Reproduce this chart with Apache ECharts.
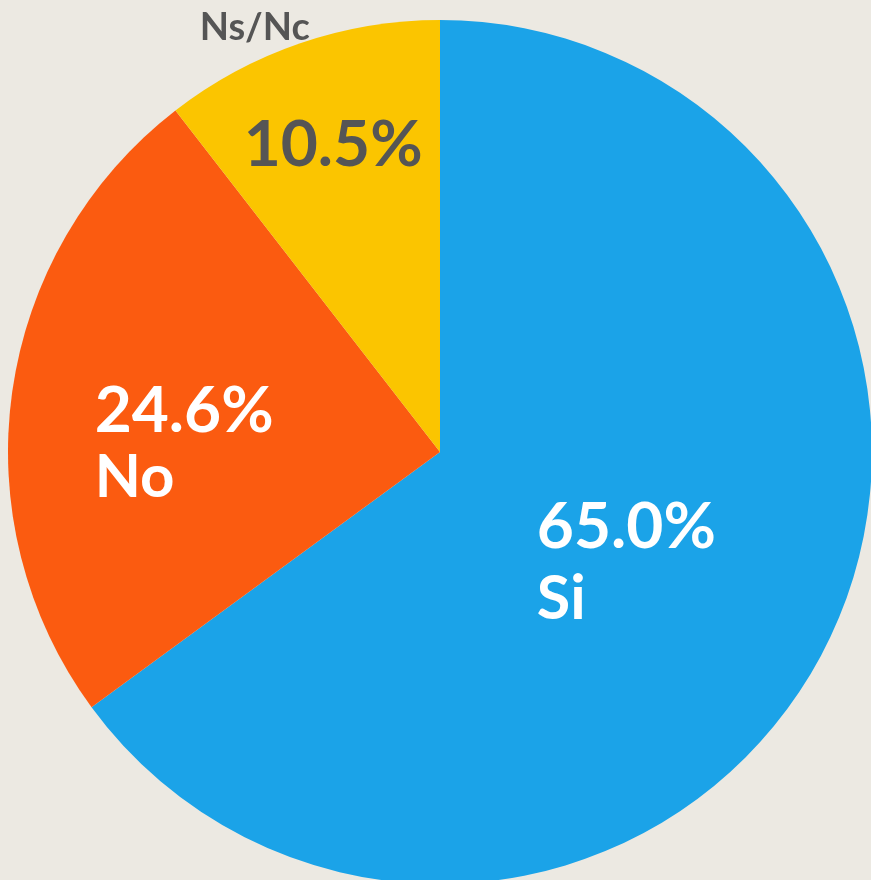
<!DOCTYPE html>
<html>
<head>
<meta charset="utf-8">
<script src="https://cdn.jsdelivr.net/npm/echarts@6/dist/echarts.min.js"></script>
<style>
html,body{margin:0;padding:0;background:#ECE9E2;}
#chart{width:871px;height:880px;}
</style>
</head>
<body>
<div id="chart"></div>
<script>
const categories = ['Si', 'No', 'Ns/Nc'];
const values = [65.0, 24.6, 10.5];
const colors = ['#1BA3E8', '#FB5B10', '#FBC500'];

const FONT = 'Lato';
const labelCfg = [
  { offset: [-9, 12], formatter: (p) => '{v|' + p.value.toFixed(1) + '%}\n{n|' + p.name + '}',
    rich: { v: { fontSize: 64, fontWeight: 'bold', color: '#FFFFFF', fontFamily: FONT, lineHeight: 72, align: 'left' },
            n: { fontSize: 61, fontWeight: 'bold', color: '#FFFFFF', fontFamily: FONT, lineHeight: 72, align: 'left' } } },
  { offset: [-39, 23], formatter: (p) => '{v|' + p.value.toFixed(1) + '%}\n{n|' + p.name + '}',
    rich: { v: { fontSize: 64, fontWeight: 'bold', color: '#FFFFFF', fontFamily: FONT, lineHeight: 66, align: 'left' },
            n: { fontSize: 60, fontWeight: 'bold', color: '#FFFFFF', fontFamily: FONT, lineHeight: 66, align: 'left' } } },
  { offset: [-58, -150], formatter: (p) => '{n|' + p.name + '}\n{v|' + p.value.toFixed(1) + '%}',
    rich: { n: { fontSize: 38, fontWeight: 'bold', color: '#555555', fontFamily: FONT, lineHeight: 102, align: 'left' },
            v: { fontSize: 64, fontWeight: 'bold', color: '#555555', fontFamily: FONT, lineHeight: 134, align: 'left', padding: [0, 0, 0, 44] } } }
];

const data = categories.map((c, i) => ({
  name: c,
  value: values[i],
  itemStyle: { color: colors[i] },
  label: {
    show: true,
    position: 'inside',
    align: 'left',
    offset: labelCfg[i].offset,
    formatter: labelCfg[i].formatter,
    rich: labelCfg[i].rich
  }
}));

const chart = echarts.init(document.getElementById('chart'), null, { renderer: 'canvas' });
chart.setOption({
  backgroundColor: '#ECE9E2',
  animation: false,
  series: [{
    type: 'pie',
    center: [440, 452],
    radius: [0, 432],
    startAngle: 90,
    clockwise: true,
    avoidLabelOverlap: false,
    silent: true,
    itemStyle: { borderWidth: 0 },
    label: { show: true, position: 'inside' },
    labelLine: { show: false },
    emphasis: { disabled: true },
    data: data
  }]
});
</script>
</body>
</html>
